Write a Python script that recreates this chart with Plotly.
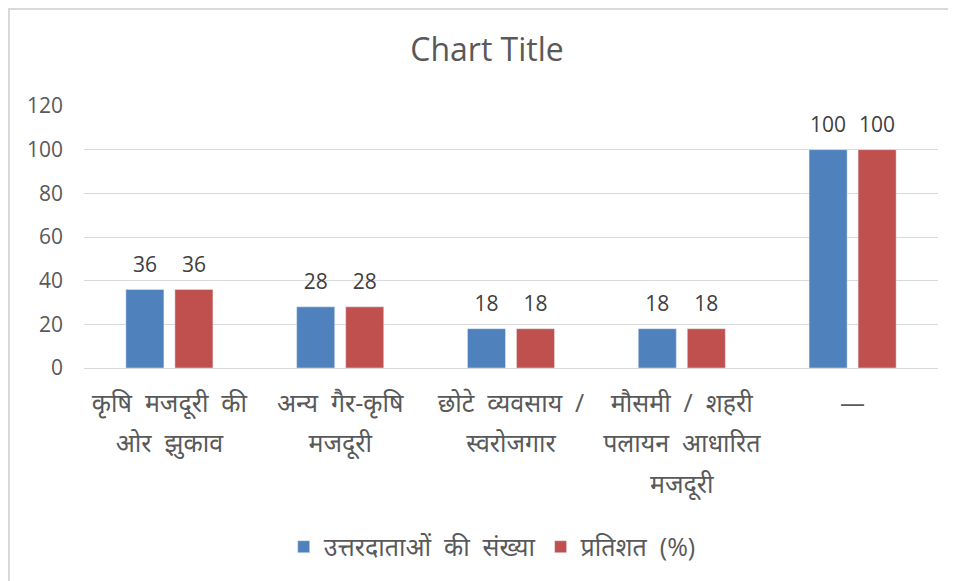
import plotly.graph_objects as go

categories = [
    "कृषि मजदूरी की<br>ओर झुकाव",
    "अन्य गैर-कृषि<br>मजदूरी",
    "छोटे व्यवसाय /<br>स्वरोजगार",
    "मौसमी / शहरी<br>पलायन आधारित<br>मजदूरी",
    "—",
]
respondents = [36, 28, 18, 18, 100]
percent = [36, 28, 18, 18, 100]
series_names = ["उत्तरदाताओं की संख्या", "प्रतिशत (%)"]
y_ticks = [0, 20, 40, 60, 80, 100, 120]

FONT = "Open Sans, Noto Sans, sans-serif"
TXT = "#595959"
CAT_SIZE = 25
NB = "\u00a0"


def wide(s):
    return s.replace(" ", NB + NB)


def big_lines(label, size):
    return "<br>".join(f"<span style='font-size:{size}px'>{wide(part)}</span>" for part in label.split("<br>"))


tick_text = [big_lines(c, CAT_SIZE) for c in categories]

fig = go.Figure()
for name, vals, col in [(series_names[0], respondents, "#4F81BD"), (series_names[1], percent, "#C0504D")]:
    fig.add_trace(go.Bar(
        x=list(range(len(categories))), y=vals, name=wide(name),
        marker_color=col,
        texttemplate="<span style='font-size:21px'>%{y}</span><br> ",
        textposition="outside",
        textfont=dict(size=9, color="#404040", family=FONT), cliponaxis=False,
    ))

fig.update_layout(
    width=956, height=581,
    margin=dict(l=76, r=26, t=98, b=221),
    paper_bgcolor="white", plot_bgcolor="white",
    barmode="group", bargap=0.426, bargroupgap=0.224,
    title=dict(text="Chart Title", x=479 / 956, xanchor="center", y=1 - 42 / 581, yanchor="middle",
               font=dict(size=32, color=TXT, family=FONT)),
    font=dict(family=FONT, color=TXT, size=19),
    showlegend=True,
    legend=dict(orientation="h", x=0.478, xanchor="center", y=-0.683, yanchor="middle",
                font=dict(size=25, color=TXT, family=FONT), itemwidth=30, traceorder="normal"),
    xaxis=dict(showline=False, ticks="", tickmode="array", tickvals=list(range(len(categories))),
               ticktext=tick_text, tickfont=dict(size=31, color=TXT), tickangle=0,
               range=[-0.5, len(categories) - 0.5], ticklabelstandoff=12),
    yaxis=dict(range=[0, 120], tickvals=y_ticks, showgrid=True, gridcolor="#d9d9d9", gridwidth=1.3,
               zeroline=True, zerolinecolor="#d9d9d9", zerolinewidth=1.3,
               showline=False, ticks="", tickfont=dict(size=21, color=TXT), ticklabelstandoff=20),
    shapes=[dict(type="rect", xref="paper", yref="paper",
                 x0=(1 - 76) / 854, x1=1.2, y0=-1.0, y1=(360 - 1) / 262,
                 line=dict(color="#d9d9d9", width=2), fillcolor="rgba(0,0,0,0)", layer="below")],
)

fig.write_html("out.html")
